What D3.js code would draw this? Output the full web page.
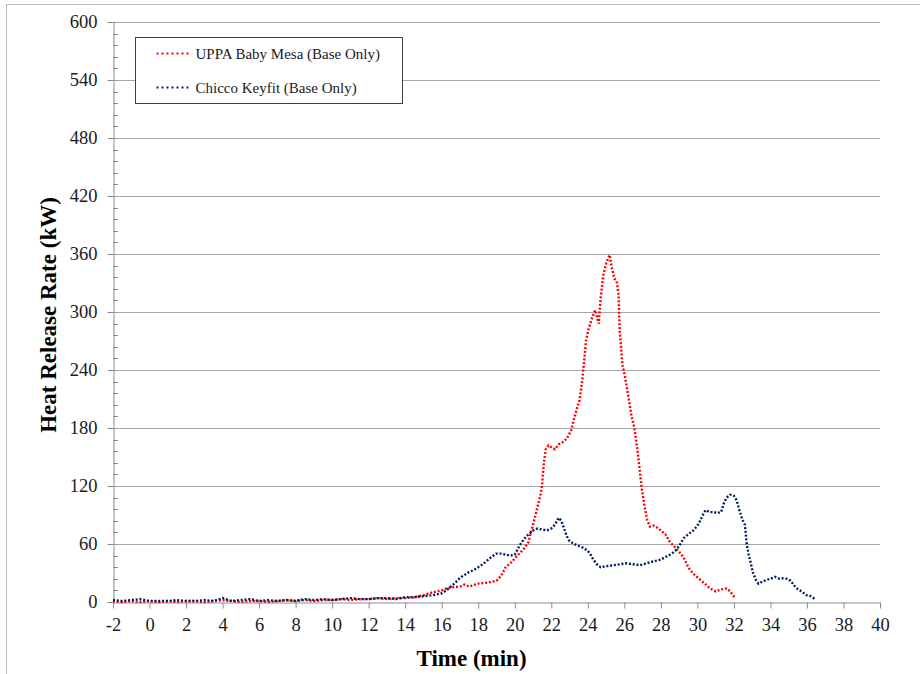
<!DOCTYPE html>
<html>
<head>
<meta charset="utf-8">
<script src="https://cdn.jsdelivr.net/npm/d3@7"></script>
<style>
  body { margin: 0; background: #fff; }
  #chart { width: 920px; height: 674px; }
  svg text { font-family: "Liberation Serif", "Times New Roman", serif !important; }
</style>
</head>
<body>
<div id="chart"></div>
<script>
// ---- data ----
const seriesNames = ["UPPA Baby Mesa (Base Only)", "Chicco Keyfit (Base Only)"];
const seriesColors = ["#ff0000", "#002060"];

const uppaTime = [-2,-1.5,-1,-0.5,0,0.5,1,1.5,2,2.5,3,3.5,4,4.5,5,5.5,6,6.5,7,7.5,8,8.5,9,9.5,10,10.5,11,11.5,12,12.5,13,13.5,14,14.5,15,15.5,16,16.25,16.5,17,17.25,17.5,18,18.5,19,19.25,19.5,19.75,20,20.25,20.5,20.75,21,21.2,21.4,21.5,21.6,21.7,21.85,22,22.2,22.4,22.6,22.85,23.1,23.25,23.4,23.55,23.7,23.8,23.9,24.05,24.2,24.4,24.5,24.6,24.7,24.85,25,25.1,25.2,25.3,25.45,25.6,25.68,25.75,25.9,26.05,26.2,26.4,26.55,26.7,26.85,26.95,27.1,27.25,27.4,27.6,27.8,28,28.25,28.5,28.75,29,29.25,29.45,29.6,29.85,30.15,30.4,30.7,31,31.3,31.6,31.8,31.95,32.06];
const uppaHrr = [1,0,1,0,1,0,1,0,1,1,0,1,2,1,0,1,1,0,1,2,1,2,1,2,2,3,2,3,3,4,3,4,4,5,7,10,12,14,15,16,18,16,19,20,22,27,36,40,45,50,55,62,80,95,110,122,145,158,162,160,158,163,165,169,178,190,200,209,230,250,270,283,292,302,295,288,314,338,350,355,359,347,335,330,318,280,245,232,215,192,180,160,135,118,100,85,78,79,77,74,70,62,57,52,46,38,33,28,23,19,14,11,13,14,11,7,4];

const chiccoTime = [-2,-1.5,-1,-0.5,0,0.5,1,1.5,2,2.5,3,3.5,4,4.5,5,5.5,6,6.5,7,7.5,8,8.5,9,9.5,10,10.5,11,11.5,12,12.5,13,13.5,14,14.5,15,15.5,16,16.25,16.5,16.75,17,17.25,17.5,17.75,18,18.25,18.5,18.75,19,19.25,19.5,19.75,20,20.25,20.5,20.75,21,21.25,21.5,21.75,22,22.2,22.4,22.55,22.7,22.85,23,23.25,23.5,23.75,24,24.15,24.3,24.5,24.7,25,25.4,25.75,26.1,26.5,26.85,27.2,27.6,28,28.3,28.6,28.8,29,29.25,29.5,29.78,30,30.15,30.3,30.45,30.7,30.9,31.1,31.3,31.45,31.6,31.8,32,32.15,32.3,32.45,32.6,32.7,32.8,32.9,33.05,33.2,33.35,33.55,33.8,34,34.25,34.5,34.7,34.9,35.1,35.3,35.45,35.7,35.98,36.2,36.45];
const chiccoHrr = [2,1,2,3,1,1,1,2,1,1,2,1,4,1,2,3,1,2,1,2,1,3,2,3,2,3,4,3,3,4,4,3,5,5,6,7,9,12,16,20,25,28,31,33,36,39,43,47,50,50,49,48,49,58,65,70,74,76,75,74,76,80,87,84,76,68,63,60,58,56,53,49,44,39,36,37,38,39,40,39,38,40,42,44,47,50,53,58,66,70,74,79,84,90,95,93,93,92,93,102,108,111,110,105,95,86,80,60,50,42,30,23,19,21,23,24,26,24,24.5,24,22,17,14,11,7,6,3];

const xTicks = d3.range(-2, 41, 2);
const yTicks = d3.range(0, 601, 60);
const yMinorTicks = d3.range(0, 601, 12);

// ---- layout ----
const W = 920, H = 674;
const plot = { left: 113, right: 880, top: 22, bottom: 602 };
const serif = '"Liberation Serif", "Times New Roman", serif';
const tickFont = "18.5px";

const svg = d3.select("#chart").append("svg")
  .attr("width", W)
  .attr("height", H);

// chart area border (cut off at right/bottom like the picture)
svg.append("rect")
  .attr("x", 6.5).attr("y", 4.5)
  .attr("width", 1000).attr("height", 1000)
  .attr("fill", "none")
  .attr("stroke", "#bfbfbf");

const x = d3.scaleLinear().domain([-2, 40]).range([plot.left, plot.right]);
const y = d3.scaleLinear().domain([0, 600]).range([plot.bottom, plot.top]);

// horizontal grid
svg.append("g")
  .selectAll("line")
  .data(yTicks.filter(d => d > 0))
  .enter().append("line")
  .attr("x1", plot.left).attr("x2", plot.right)
  .attr("y1", d => Math.round(y(d)) + 0.5)
  .attr("y2", d => Math.round(y(d)) + 0.5)
  .attr("stroke", "#a6a6a6")
  .attr("stroke-width", 1);

// y axis: majors outside, minors inside
const yAxis = svg.append("g")
  .attr("transform", `translate(${plot.left + 0.5},0)`)
  .call(d3.axisLeft(y).tickValues(yTicks).tickSize(6).tickPadding(10).tickFormat(d => String(d)));
yAxis.attr("font-family", serif).attr("font-size", 18);
yAxis.select(".domain").attr("stroke", "#8c8c8c");
yAxis.selectAll(".tick line").attr("stroke", "#8c8c8c");
yAxis.selectAll("text").style("font-family", serif).style("font-size", tickFont).attr("fill", "#1a1a1a");

svg.append("g")
  .selectAll("line")
  .data(yMinorTicks.filter(d => d % 60 !== 0))
  .enter().append("line")
  .attr("x1", plot.left).attr("x2", plot.left + 5)
  .attr("y1", d => Math.round(y(d)) + 0.5)
  .attr("y2", d => Math.round(y(d)) + 0.5)
  .attr("stroke", "#8c8c8c");

// x axis
const xAxis = svg.append("g")
  .attr("transform", `translate(0,${plot.bottom + 0.5})`)
  .call(d3.axisBottom(x).tickValues(xTicks).tickSize(6).tickSizeOuter(0).tickPadding(9).tickFormat(d => String(d)));
xAxis.attr("font-family", serif).attr("font-size", 18);
xAxis.select(".domain").attr("stroke", "#8c8c8c");
xAxis.selectAll(".tick line").attr("stroke", "#8c8c8c");
xAxis.selectAll("text").style("font-family", serif).style("font-size", tickFont).attr("fill", "#1a1a1a");

// axis titles
svg.append("text")
  .attr("x", (plot.left + plot.right) / 2 - 25)
  .attr("y", 666)
  .attr("text-anchor", "middle")
  .style("font-family", serif)
  .style("font-size", "23px")
  .style("font-weight", "bold")
  .text("Time (min)");

svg.append("text")
  .attr("transform", `translate(56,${(plot.top + plot.bottom) / 2 + 3}) rotate(-90)`)
  .attr("text-anchor", "middle")
  .style("font-family", serif)
  .style("font-size", "23px")
  .style("font-weight", "bold")
  .text("Heat Release Rate (kW)");

// ---- series: dotted lines ----
const line = d3.line()
  .x(d => x(d[0]))
  .y(d => y(d[1]));

const series = [
  d3.zip(uppaTime, uppaHrr),
  d3.zip(chiccoTime, chiccoHrr)
];

[0, 1].forEach(i => {
  svg.append("path")
    .datum(series[i])
    .attr("d", line)
    .attr("fill", "none")
    .attr("stroke", seriesColors[i])
    .attr("stroke-width", 2.4)
    .attr("stroke-dasharray", "2,1.8");
});

// ---- legend ----
const lg = svg.append("g").attr("transform", "translate(135.5,37.5)");
lg.append("rect")
  .attr("width", 267).attr("height", 66)
  .attr("fill", "#fff")
  .attr("stroke", "#404040");

seriesNames.forEach((name, i) => {
  const ly = 16 + i * 34;
  lg.append("line")
    .attr("x1", 21).attr("x2", 55)
    .attr("y1", ly).attr("y2", ly)
    .attr("stroke", seriesColors[i])
    .attr("stroke-width", 2)
    .attr("stroke-dasharray", "2,3");
  lg.append("text")
    .attr("x", 60).attr("y", ly + 5)
    .style("font-family", serif)
    .style("font-size", "15px")
    .attr("fill", "#1a1a1a")
    .text(name);
});
</script>
</body>
</html>
